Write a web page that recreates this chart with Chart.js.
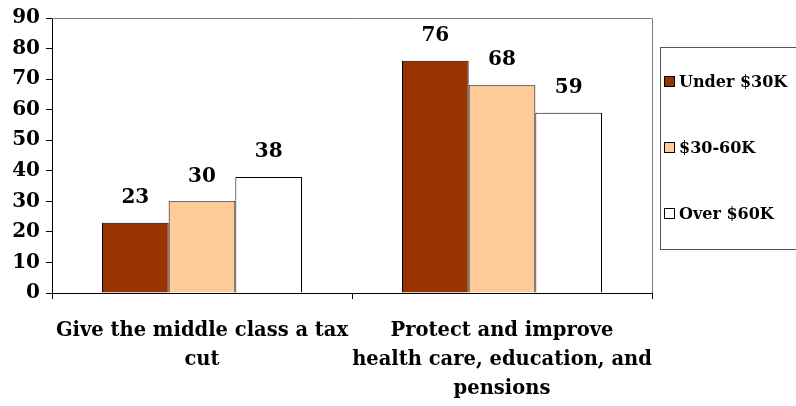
<!DOCTYPE html>
<html><head><meta charset="utf-8">
<script src="https://cdn.jsdelivr.net/npm/chart.js@4"></script>
<style>html,body{margin:0;padding:0;background:#fff}#wrap{width:796px;height:406px;position:relative}</style>
</head><body><div id="wrap"><canvas id="c" width="796" height="406"></canvas></div>
<script>
const categories = [
  ["Give the middle class a tax", "cut"],
  ["Protect and improve", "health care, education, and", "pensions"]
];
const seriesNames = ["Under $30K", "$30-60K", "Over $60K"];
const under30 = [23, 76];
const mid30to60 = [30, 68];
const over60 = [38, 59];
const yTicks = [0, 10, 20, 30, 40, 50, 60, 70, 80, 90];

const colors = ["#993300", "#FFCC99", "#FFFFFF"];
const FONT = "'DejaVu Serif', 'Liberation Serif', serif";

const valueLabels = {
  id: 'valueLabels',
  afterDatasetsDraw(chart) {
    const ctx = chart.ctx;
    ctx.save();
    ctx.font = "bold 20px " + FONT;
    ctx.fillStyle = "#000";
    ctx.textAlign = "center";
    ctx.textBaseline = "middle";
    chart.data.datasets.forEach((ds, i) => {
      chart.getDatasetMeta(i).data.forEach((bar, j) => {
        ctx.fillText(String(ds.data[j]), bar.x, bar.y - 25);
      });
    });
    ctx.restore();
  }
};

const frame = {
  id: 'frame',
  afterDraw(chart) {
    const ctx = chart.ctx, a = chart.chartArea;
    ctx.save();
    ctx.strokeStyle = "#808080";
    ctx.lineWidth = 1;
    ctx.beginPath();
    ctx.moveTo(a.left, a.top + 0.5);
    ctx.lineTo(a.right + 0.5, a.top + 0.5);
    ctx.lineTo(a.right + 0.5, a.bottom);
    ctx.stroke();
    // legend
    ctx.strokeStyle = "#555";
    ctx.strokeRect(660.5, 47.5, 150, 202);
    ctx.font = "bold 16px " + FONT;
    ctx.textBaseline = "middle";
    ctx.textAlign = "left";
    const ys = [82, 148, 214];
    chart.data.datasets.forEach((ds, i) => {
      ctx.fillStyle = ds.backgroundColor;
      ctx.fillRect(664.5, ys[i] - 5.5, 10, 10);
      ctx.strokeStyle = "#000";
      ctx.strokeRect(664.5, ys[i] - 5.5, 10, 10);
      ctx.fillStyle = "#000";
      ctx.fillText(ds.label, 679, ys[i] + 1);
    });
    ctx.restore();
  }
};

new Chart(document.getElementById('c'), {
  type: 'bar',
  data: {
    labels: categories,
    datasets: [under30, mid30to60, over60].map((d, i) => ({
      label: seriesNames[i],
      data: d,
      backgroundColor: colors[i],
      borderColor: "#000",
      borderWidth: 1,
      borderSkipped: 'bottom',
      categoryPercentage: 2/3,
      barPercentage: 1
    }))
  },
  options: {
    responsive: false,
    animation: false,
    devicePixelRatio: 1,
    layout: { padding: { top: 17, right: 144, left: 0, bottom: 0 } },
    plugins: { legend: { display: false }, tooltip: { enabled: false } },
    scales: {
      x: {
        grid: { display: true, drawOnChartArea: false, offset: true, tickLength: 6, color: "#000", tickColor: "#000" },
        border: { display: true, color: "#000", width: 1 },
        ticks: {
          color: "#000", maxRotation: 0, minRotation: 0, autoSkip: false, padding: 18,
          font: { family: FONT, weight: 'bold', size: 19.5, lineHeight: 1.48 }
        },
        afterFit(s) { s.height = 113; }
      },
      y: {
        min: 0, max: 90,
        afterBuildTicks(s) { s.ticks = yTicks.map(v => ({ value: v })); },
        grid: { display: true, drawOnChartArea: false, tickLength: 6, color: "#000", tickColor: "#000" },
        border: { display: true, color: "#000", width: 1 },
        ticks: { color: "#000", padding: 6, font: { family: FONT, weight: 'bold', size: 20 } },
        afterFit(s) { s.width = 52; }
      }
    }
  },
  plugins: [valueLabels, frame]
});
</script></body></html>
